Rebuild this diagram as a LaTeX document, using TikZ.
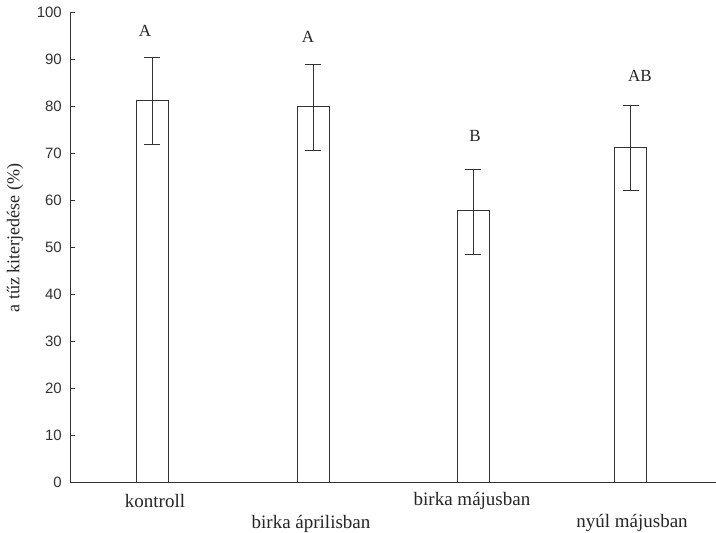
\documentclass[tikz,border=0pt]{standalone}
\usepackage{fontspec}
\setmainfont{Liberation Serif}
\newfontfamily\ticksans{Liberation Sans}
\begin{document}
\begin{tikzpicture}[x=1bp,y=1bp,
  axisline/.style={draw=black!80,line width=0.9bp},
  barbox/.style={draw=black!80,line width=0.9bp,fill=white},
  errline/.style={draw=black!80,line width=0.9bp},
  ticklab/.style={anchor=east,inner sep=0pt,font=\ticksans\fontsize{15bp}{17bp}\selectfont,text=black!80},
  catlab/.style={anchor=base,inner sep=0pt,font=\fontsize{19bp}{21bp}\selectfont,text=black!85},
  siglab/.style={anchor=center,inner sep=0pt,font=\fontsize{17bp}{19bp}\selectfont,text=black!85}]
\useasboundingbox[fill=white] (0,0) rectangle (716,533);
% data to y: 51 + 4.7 v
\def\yv#1{51+4.7*#1}
% axes
\coordinate (o) at (70,{\yv{0}});
\coordinate (top) at (70,{\yv{100}});
\coordinate (xend) at (716,{\yv{0}});
\draw[axisline] (top) -- (o) -- (xend);
\foreach \v in {0,10,...,100}{
  \draw[axisline] (70,{\yv{\v}}) -- (75,{\yv{\v}});
  \node[ticklab] (t\v) at (62,{\yv{\v}}) {\v};
}
% bars: center, mean, low, high
\foreach \c/\m/\lo/\hi/\n in {152/81.2/71.9/90.4/1, 313/79.8/70.6/88.9/2, 473/57.7/48.5/66.6/3, 630.5/71.2/62.1/80.1/4}{
  \draw[barbox] (\c-16,{\yv{0}}) rectangle (\c+16,{\yv{\m}});
  \draw[errline] (\c,{\yv{\lo}}) -- (\c,{\yv{\hi}});
  \draw[errline] (\c-8,{\yv{\lo}}) -- (\c+8,{\yv{\lo}});
  \draw[errline] (\c-8,{\yv{\hi}}) -- (\c+8,{\yv{\hi}});
}
% significance letters
\node[siglab] (s1) at (145,502) {A};
\node[siglab] (s2) at (308,496) {A};
\node[siglab] (s3) at (475,397) {B};
\node[siglab] (s4) at (640,457) {AB};
% category labels
\node[catlab] (c1) at (155,25) {kontroll};
\node[catlab] (c2) at (311,4) {birka áprilisban};
\node[catlab] (c3) at (472,27) {birka májusban};
\node[catlab] (c4) at (632,5) {nyúl májusban};
% y label
\node[rotate=90,inner sep=0pt,font=\fontsize{18bp}{20bp}\selectfont,text=black!85] (yl) at (15,295) {a tűz kiterjedése (\%)};
\end{tikzpicture}
\end{document}
